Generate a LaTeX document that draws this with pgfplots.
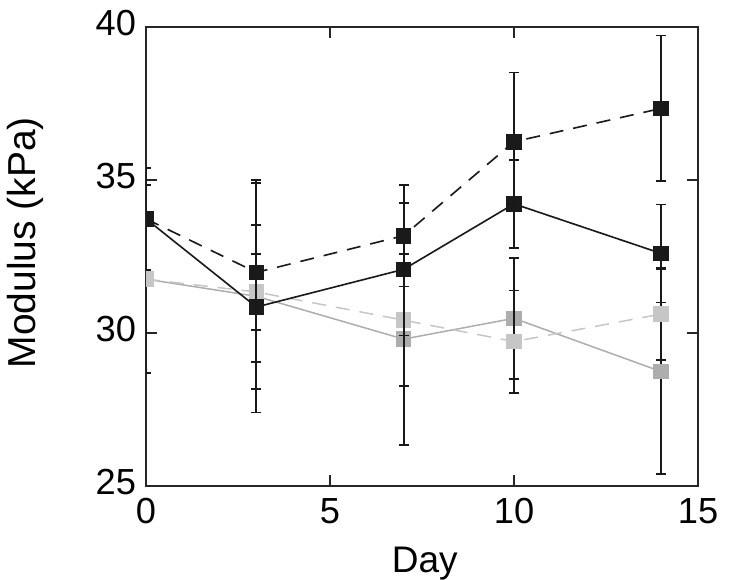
\documentclass[border=0pt]{standalone}
\usepackage{pgfplots}
\pgfplotsset{compat=1.18}
\usepackage{pgfplotstable}
\usepackage{fontspec}
\setmainfont{Liberation Sans}
\definecolor{blk}{HTML}{1A1A1A}
\definecolor{gs}{HTML}{ADADAD}
\definecolor{gd}{HTML}{C6C6C6}

\pgfplotstableread{
x y e
0 33.73 1.66
3 30.85 2.67
7 32.08 2.16
10 34.22 1.44
14 32.60 1.60
}\bs
\pgfplotstableread{
x y e
0 33.73 0
3 31.98 2.93
7 33.18 1.66
10 36.25 2.26
14 37.34 2.38
}\bd
\pgfplotstableread{
x y e
0 31.76 3.07
3 31.20 3.80
7 29.80 3.46
10 30.48 1.98
14 28.74 3.34
}\gsd
\pgfplotstableread{
x y e
0 31.76 0
3 31.34 1.25
7 30.42 2.15
10 29.72 1.67
14 30.62 1.50
}\gdd

\begin{document}
\begin{tikzpicture}
\begin{axis}[
  scale only axis,
  width=220.8pt, height=183.6pt,
  xmin=0, xmax=15, ymin=25, ymax=40,
  xtick={0,5,10,15}, ytick={25,30,35,40},
  tick align=inside, major tick length=4.5pt,
  tick style={line width=0.6pt, black!85},
  axis line style={line width=0.6pt, black!85},
  /pgf/number format/assume math mode=true,
  ticklabel style={font=\fontsize{14.5}{16}\selectfont},
  xticklabel style={yshift=-1.5pt},
  yticklabel style={xshift=-0.5pt, yshift=1.5pt},
  xlabel={Day}, ylabel={Modulus (kPa)},
  xlabel style={font=\fontsize{14.8}{16}\selectfont, at={(axis description cs:0.505,-0.131)}, anchor=north, inner sep=0pt},
  ylabel style={font=\fontsize{15.6}{17}\selectfont, at={(axis description cs:-0.218,0.53)}, anchor=center, inner sep=0pt},
  clip marker paths=true,
  error bars/y dir=both, error bars/y explicit,
  error bars/error bar style={black!90, line width=0.75pt, solid},
  error bars/error mark options={rotate=90, mark size=2pt, black!90, line width=0.7pt, solid},
]
\addplot[gs, line width=0.6pt, mark=square*, mark size=2.8pt, mark options={solid, fill=gs, draw=gs}]
  table[x=x, y=y, y error=e] {\gsd};
\addplot[gd, line width=0.6pt, dash pattern=on 5.6pt off 4pt, mark=square*, mark size=2.8pt, mark options={solid, fill=gd, draw=gd}]
  table[x=x, y=y, y error=e] {\gdd};
\addplot[blk, line width=0.65pt, mark=square*, mark size=2.8pt, mark options={solid, fill=blk, draw=blk}]
  table[x=x, y=y, y error=e] {\bs};
\addplot[blk, line width=0.65pt, dash pattern=on 5.6pt off 4pt, mark=square*, mark size=2.8pt, mark options={solid, fill=blk, draw=blk}]
  table[x=x, y=y, y error=e] {\bd};
\end{axis}
\path ([shift={(-58.4pt,-37.2pt)}]current axis.south west) rectangle ([shift={(12.4pt,10.8pt)}]current axis.north east);
\end{tikzpicture}
\end{document}
